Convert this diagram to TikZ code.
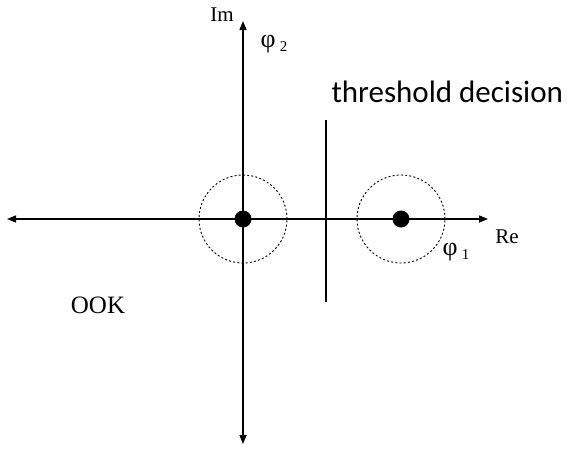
\documentclass[tikz,border=0pt]{standalone}
\usepackage{fontspec}
\setmainfont{Liberation Serif}
\newfontfamily\calib{Carlito}
\usetikzlibrary{positioning}
\usetikzlibrary{arrows.meta}

\tikzset{
    axis/.style={line width=1.4pt, -{Triangle[length=9pt,width=7pt]}},
    symb/.style={circle, fill=black, inner sep=0pt, minimum size=17pt},
    noise/.style={circle, draw, dash pattern=on 2pt off 2.2pt, line width=0.9pt, minimum size=88pt, inner sep=0pt},
}

\begin{document}
\begin{tikzpicture}[x=1pt, y=-1pt]
\useasboundingbox[fill=white] (0,0) rectangle (567,450);

% Axes
\coordinate (o) at (243,219);
\coordinate (re) at (488,219);
\coordinate (lft) at (7,219);
\coordinate (im) at (243,21);
\coordinate (dn) at (243,444);
\draw[axis] (o) -- (re);
\draw[axis] (o) -- (lft);
\draw[axis] (o) -- (im);
\draw[axis] (o) -- (dn);

% Symbols with noise circles
\node[noise] (c0) at (243,219) {};
\node[noise] (c1) at (401,219) {};
\node[symb] (s0) at (c0.center) {};
\node[symb] (s1) at (c1.center) {};

% Threshold
\coordinate (th1) at (326,120);
\coordinate (th2) at (326,302);
\draw[line width=2.8pt] (th1) -- (th2);

% Labels
\node[font=\fontsize{21}{22}\selectfont] (imlbl) at (222,15) {Im};
\node[font=\fontsize{21}{22}\selectfont] (relbl) at (507,237) {Re};
\node[font=\fontsize{26}{28}\selectfont, anchor=west] (phi2) at (257,44) {φ\,\raisebox{-0.15em}{\fontsize{15}{15}\selectfont 2}};
\node[font=\fontsize{26}{28}\selectfont, anchor=west] (phi1) at (439,252) {φ\,\raisebox{-0.15em}{\fontsize{15}{15}\selectfont 1}};
\node[font=\calib\fontsize{31}{33}\selectfont, anchor=west] (thlbl) at (328,92) {threshold decision};
\node[font=\fontsize{25}{26}\selectfont] (ook) at (98,305) {OOK};
\end{tikzpicture}
\end{document}
